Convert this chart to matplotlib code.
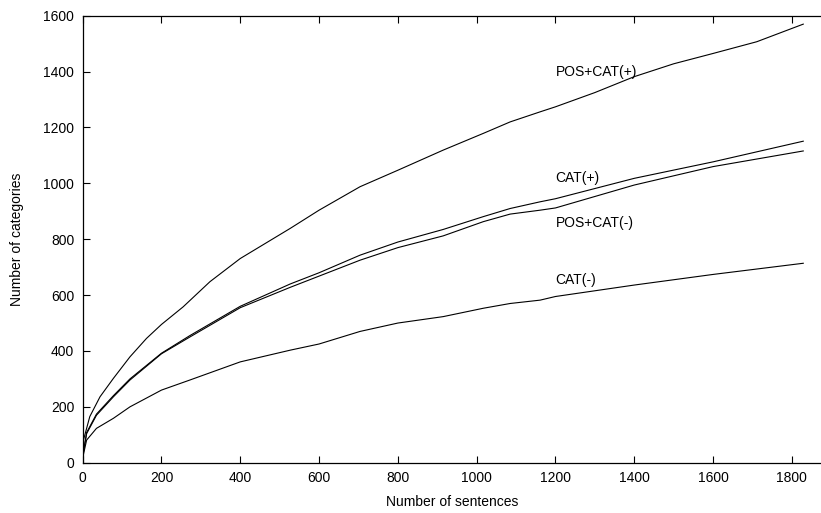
import matplotlib
matplotlib.use("Agg")
import matplotlib.pyplot as plt

plt.rcParams['font.family'] = ['Liberation Sans', 'DejaVu Sans']

# values
sentences_pc_plus = [0, 2, 18, 44, 78, 120, 162, 200, 255, 323, 400, 527, 600, 704, 800, 915,
                     1017, 1085, 1161, 1200, 1300, 1400, 1500, 1600, 1711, 1829]
pos_cat_plus = [0, 81, 165, 236, 302, 379, 445, 495, 558, 648, 731, 839, 904, 988, 1047, 1119,
                1179, 1220, 1256, 1274, 1325, 1382, 1428, 1465, 1507, 1570]

sentences = [0, 2, 10, 35, 78, 120, 200, 272, 400, 527, 600, 704, 800, 915, 1017, 1085,
             1161, 1200, 1400, 1600, 1829]
cat_plus = [0, 40, 108, 174, 240, 300, 392, 455, 560, 640, 680, 743, 790, 835, 881, 910,
            934, 945, 1018, 1077, 1151]
pos_cat_minus = [0, 38, 104, 170, 236, 296, 390, 450, 555, 628, 668, 725, 770, 812, 863, 890,
                 904, 912, 994, 1060, 1116]
cat_minus = [0, 30, 81, 123, 159, 200, 260, 296, 361, 403, 425, 470, 500, 523, 553, 570,
             582, 595, 636, 674, 714]

labels = ['POS+CAT(+)', 'CAT(+)', 'POS+CAT(-)', 'CAT(-)']
label_x = 1200
label_y = [1400, 1018, 857, 654]

fig = plt.figure(figsize=(8.21, 5.13), dpi=100)
ax = fig.add_axes([0.1007, 0.098, 0.8993, 0.8713])

ax.plot(sentences_pc_plus, pos_cat_plus, color='black', lw=0.8)
ax.plot(sentences, cat_plus, color='black', lw=0.8)
ax.plot(sentences, pos_cat_minus, color='black', lw=0.8)
ax.plot(sentences, cat_minus, color='black', lw=0.8)

for lab, y in zip(labels, label_y):
    ax.text(label_x, y, lab, fontsize=10, ha='left', va='center')

ax.set_xlim(0, 1874)
ax.set_ylim(0, 1600)
ax.set_xticks(range(0, 1801, 200))
ax.set_yticks(range(0, 1601, 200))
ax.tick_params(direction='in', top=True, right=False, length=5, width=0.8,
               labelsize=10, pad=6)
ax.spines['right'].set_visible(False)
for s in ['left', 'bottom', 'top']:
    ax.spines[s].set_linewidth(0.9)

ax.set_xlabel('Number of sentences', fontsize=10, labelpad=7)
ax.set_ylabel('Number of categories', fontsize=10, labelpad=14)

fig.savefig('out.png', dpi=100)
